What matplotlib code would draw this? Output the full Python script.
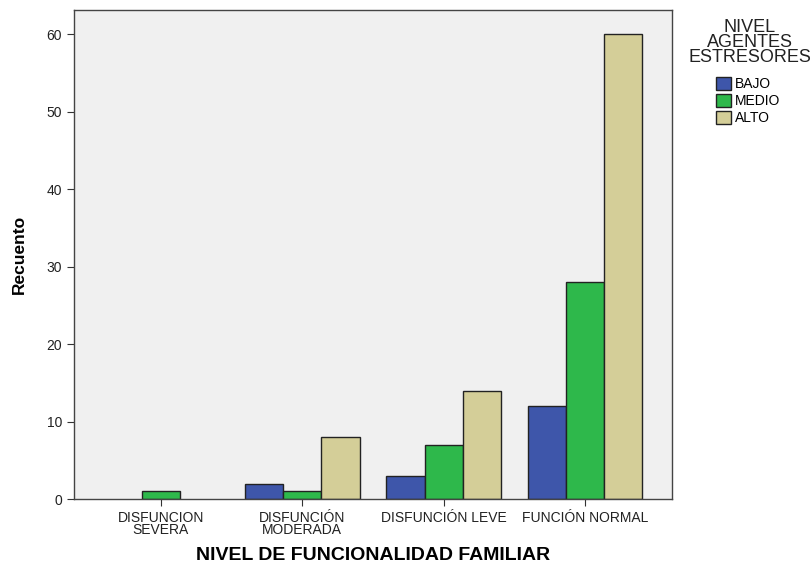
import numpy as np
import matplotlib.pyplot as plt

plt.rcParams['font.family'] = ['Liberation Sans', 'DejaVu Sans']

categorias = ["DISFUNCION\nSEVERA", "DISFUNCIÓN\nMODERADA", "DISFUNCIÓN LEVE", "FUNCIÓN NORMAL"]
niveles = ["BAJO", "MEDIO", "ALTO"]
bajo = [0, 2, 3, 12]
medio = [1, 1, 7, 28]
alto = [0, 8, 14, 60]
colores = ["#3e56aa", "#2eb84b", "#d4ce98"]

fig = plt.figure(figsize=(8.12, 5.69), dpi=100)
ax = fig.add_axes([0.0911, 0.123, 0.7365, 0.8594])
ax.set_facecolor("#f0f0f0")

x = np.arange(len(categorias))
ancho = 0.27
for i, (serie, nombre) in enumerate(zip([bajo, medio, alto], niveles)):
    vals = np.array(serie, dtype=float)
    pos = x + (i - 1) * ancho
    mask = vals > 0
    ax.bar(pos[mask], vals[mask], width=ancho, color=colores[i],
           edgecolor="#222222", linewidth=1.0, label=nombre)

ax.set_xlim(-0.615, 3.615)
ax.set_ylim(0, 63.1)
ax.set_yticks(range(0, 61, 10))
ax.set_xticks(x)
ax.set_xticklabels(categorias, linespacing=0.85)
ax.tick_params(axis="both", direction="out", length=5, color="#333333",
               labelcolor="#222222", labelsize=10)
for s in ax.spines.values():
    s.set_color("#444444")
    s.set_linewidth(1.0)

ax.set_xlabel("NIVEL DE FUNCIONALIDAD FAMILIAR", fontsize=14, fontweight="bold", labelpad=7)
ax.set_ylabel("Recuento", fontsize=12.5, fontweight="bold", labelpad=14)

# titulo de la leyenda
fig.text(750 / 812, 1 - 19 / 569, "NIVEL\nAGENTES\nESTRESORES", ha="center", va="top",
         multialignment="center", fontsize=13, linespacing=0.85, color="#222222")

leg = ax.legend(loc="upper left", bbox_to_anchor=(716 / 812, 1 - 77 / 569),
                bbox_transform=fig.transFigure, frameon=False, fontsize=10,
                handlelength=1.1, handleheight=1.05, handletextpad=0.25,
                labelspacing=0.2, borderpad=0.0, borderaxespad=0.0)

fig.savefig("out.png", dpi=100)
